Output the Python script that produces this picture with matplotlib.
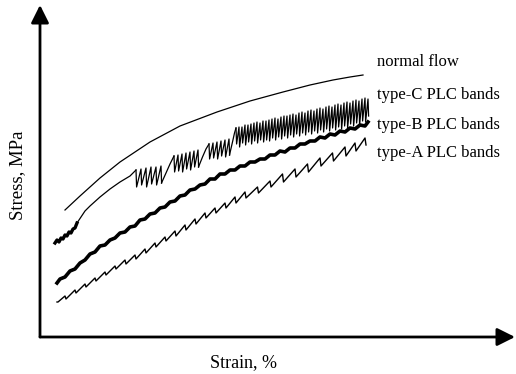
import matplotlib
matplotlib.use("Agg")
import matplotlib.pyplot as plt

# ---- curve data (strain in %, stress in MPa, schematic units) ----
normal_strain = [0.50, 0.80, 1.20, 1.60, 2.20, 2.80, 3.54, 4.20, 4.86, 5.40, 5.86, 6.20, 6.46]
normal_stress = [127, 141, 159, 175, 195, 211, 225, 236, 245, 252, 257, 260, 262]

# type-C: serrated start, smooth rise, then groups of stress drops
c_start_strain = [0.30, 0.34, 0.38, 0.42, 0.46, 0.50, 0.54, 0.58, 0.62, 0.66, 0.70, 0.74]
c_start_stress = [94, 97, 95, 99, 98, 102, 101, 105, 104, 108, 109, 114]
c_rise_strain = [0.74, 0.90, 1.00, 1.20, 1.40, 1.60, 1.80, 1.92]
c_rise_stress = [114, 126, 131, 140, 148, 155, 161, 167]

c_g1_strain = [1.92, 2.02, 2.12, 2.22, 2.32, 2.42]
c_g1_top = [167, 168, 169, 170, 170, 171]
c_g1_bottom = [150, 152, 150, 153, 152, 154]
c_arc1_strain = [2.43, 2.52, 2.60, 2.68]
c_arc1_stress = [154, 164, 173, 181]

c_g2_strain = [2.68, 2.76, 2.84, 2.92, 3.00, 3.08, 3.16]
c_g2_top = [181, 182, 183, 184, 185, 186, 187]
c_g2_bottom = [165, 166, 165, 168, 167, 170, 170]
c_arc2_strain = [3.17, 3.25, 3.32, 3.38]
c_arc2_stress = [170, 180, 188, 193]

c_g3_strain = [3.38, 3.46, 3.54, 3.62, 3.70, 3.78]
c_g3_top = [193, 194, 195, 196, 197, 198]
c_g3_bottom = [178, 179, 178, 181, 180, 182]
c_arc3_strain = [3.79, 3.85, 3.89, 3.92]
c_arc3_stress = [182, 195, 204, 209]

c_dense_strain = [3.92, 3.98, 4.04, 4.10, 4.16, 4.22, 4.28, 4.34, 4.40, 4.46,
                  4.52, 4.58, 4.64, 4.70, 4.76, 4.82, 4.88, 4.94, 5.00, 5.06,
                  5.12, 5.18, 5.24, 5.30, 5.36, 5.42, 5.48, 5.54, 5.60, 5.66,
                  5.72, 5.78, 5.84, 5.90, 5.96, 6.02, 6.08, 6.14, 6.20, 6.26,
                  6.32, 6.38, 6.44, 6.50, 6.56]
c_dense_top = [209, 210, 210, 212, 212, 213, 214, 215, 214, 216,
               216, 217, 218, 219, 218, 220, 221, 221, 222, 223,
               222, 224, 225, 224, 226, 227, 226, 228, 229, 228,
               230, 231, 230, 232, 233, 232, 234, 235, 234, 236,
               237, 236, 238, 239, 238]
c_dense_bottom = [193, 190, 194, 192, 195, 193, 196, 194, 197, 195,
                  197, 196, 199, 197, 200, 198, 201, 199, 202, 200,
                  203, 201, 204, 202, 205, 203, 206, 204, 207, 205,
                  208, 206, 209, 207, 210, 208, 211, 209, 213, 211,
                  214, 212, 216, 215, 221]

# type-B: fine, irregular serrations on a thick trace
b_strain = [0.34, 0.40, 0.50, 0.60, 0.70, 0.80, 0.90, 1.00, 1.10, 1.20,
            1.30, 1.40, 1.50, 1.60, 1.70, 1.80, 1.90, 2.00, 2.10, 2.20,
            2.30, 2.40, 2.50, 2.60, 2.70, 2.80, 2.90, 3.00, 3.10, 3.20,
            3.30, 3.40, 3.50, 3.60, 3.70, 3.80, 3.90, 4.00, 4.10, 4.20,
            4.30, 4.40, 4.50, 4.60, 4.70, 4.80, 4.90, 5.00, 5.10, 5.20,
            5.30, 5.40, 5.50, 5.60, 5.70, 5.80, 5.90, 6.00, 6.10, 6.20,
            6.30, 6.40, 6.50, 6.56]
b_stress = [54, 58, 60, 66, 68, 74, 77, 83, 85, 91,
            92, 97, 99, 104, 105, 110, 111, 117, 118, 123,
            124, 129, 130, 135, 136, 141, 142, 147, 148, 152,
            153, 158, 158, 163, 163, 167, 167, 171, 171, 175,
            175, 178, 178, 182, 182, 186, 185, 189, 189, 193,
            193, 196, 196, 200, 199, 203, 202, 206, 205, 209,
            208, 212, 211, 215]

# type-A: regular sawtooth drops
a_strain = [0.34, 0.50, 0.70, 0.90, 1.10, 1.30, 1.50, 1.70, 1.90, 2.10,
            2.30, 2.50, 2.70, 2.90, 3.10, 3.30, 3.50, 3.70, 3.90, 4.10,
            4.35, 4.60, 4.85, 5.10, 5.35, 5.60, 5.85, 6.10, 6.30, 6.50]
a_peak = [35, 41, 47, 53, 59, 65, 71, 77, 82, 88,
          94, 100, 106, 112, 118, 124, 129, 134, 140, 145,
          150, 156, 163, 168, 173, 179, 184, 190, 194, 199]
a_trough = [35, 38, 44, 50, 56, 62, 68, 73, 78, 84,
            90, 96, 101, 107, 113, 119, 124, 129, 134, 139,
            144, 150, 155, 160, 165, 171, 176, 181, 186, 192]

labels = ["normal flow", "type-C PLC bands", "type-B PLC bands", "type-A PLC bands"]
label_stress = [275, 242, 212, 184]


def sawtooth(strains, tops, bottoms, drop=0.012):
    xs, ys = [], []
    for s, t, b in zip(strains, tops, bottoms):
        xs += [s, s + drop]
        ys += [t, b]
    return xs, ys


fig = plt.figure(figsize=(5.16, 3.74), dpi=100)
ax = fig.add_axes([0, 0, 1, 1])
ax.set_xlim(-0.8, 9.52)
ax.set_ylim(-37, 337)
ax.axis("off")

ink = "black"

# axes drawn as arrows
ax.annotate("", xy=(9.50, 0), xytext=(0, 0),
            arrowprops=dict(arrowstyle="-|>", lw=2.0, color=ink,
                            mutation_scale=27, shrinkA=0, shrinkB=0))
ax.annotate("", xy=(0, 332), xytext=(0, 0),
            arrowprops=dict(arrowstyle="-|>", lw=2.0, color=ink,
                            mutation_scale=27, shrinkA=0, shrinkB=0))

# normal flow
ax.plot(normal_strain, normal_stress, color=ink, lw=0.9)

# type-C
ax.plot(c_start_strain, c_start_stress, color=ink, lw=2.4, solid_joinstyle="round")
ax.plot(c_rise_strain, c_rise_stress, color=ink, lw=0.9)
for g_s, g_t, g_b in [(c_g1_strain, c_g1_top, c_g1_bottom),
                      (c_g2_strain, c_g2_top, c_g2_bottom),
                      (c_g3_strain, c_g3_top, c_g3_bottom),
                      (c_dense_strain, c_dense_top, c_dense_bottom)]:
    xs, ys = sawtooth(g_s, g_t, g_b)
    ax.plot(xs, ys, color=ink, lw=0.9)
for a_s, a_y in [(c_arc1_strain, c_arc1_stress), (c_arc2_strain, c_arc2_stress),
                 (c_arc3_strain, c_arc3_stress)]:
    ax.plot(a_s, a_y, color=ink, lw=0.9)

# type-B
ax.plot(b_strain, b_stress, color=ink, lw=2.6, solid_joinstyle="round")

# type-A
xs, ys = sawtooth(a_strain, a_peak, a_trough, drop=0.02)
ax.plot(xs, ys, color=ink, lw=1.0)

serif = "Liberation Serif"
for text, y in zip(labels, label_stress):
    ax.text(6.74, y, text, fontsize=12, family=serif, ha="left", va="center")

ax.text(4.08, -26, "Strain, %", fontsize=13, family=serif, ha="center", va="center")
ax.text(-0.44, 162, "Stress, MPa", fontsize=13.5, family=serif, ha="center",
        va="center", rotation=90)

fig.savefig("out.png", dpi=100)
